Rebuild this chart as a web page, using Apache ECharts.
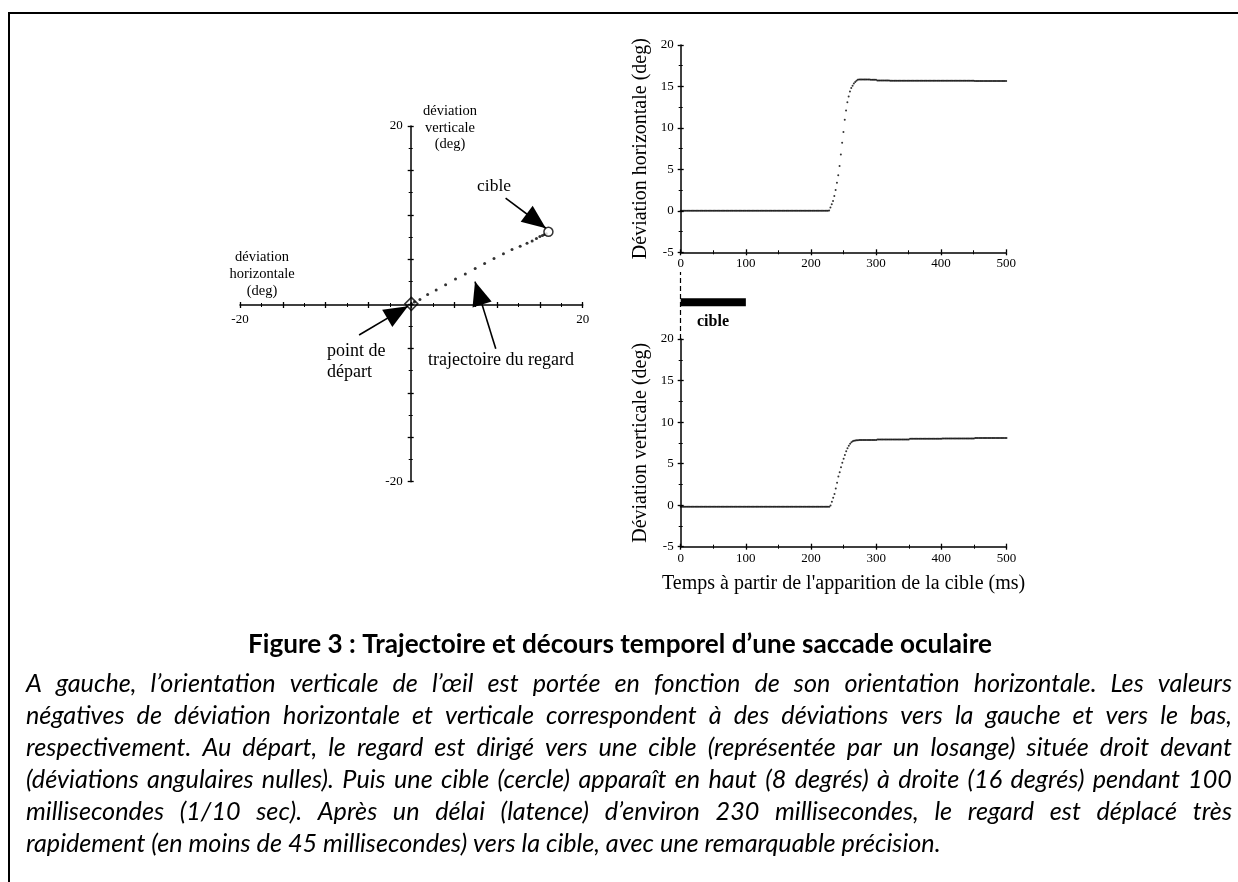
<!DOCTYPE html>
<html><head><meta charset="utf-8">
<script src="https://cdn.jsdelivr.net/npm/echarts@6/dist/echarts.min.js"></script>
<style>html,body{margin:0;padding:0;background:#fff}#c{width:1238px;height:882px}</style>
</head><body><div id="c"></div>
<script>
// ---------------- DATA ----------------
const SAMPLE_MS = 2; // one sample every 2 ms, from 0 to 500 ms
// Horizontal deviation (deg), samples at 0,2,4,...,500 ms
const horizontalDeg = [
  0,0,0,0,0,0,0,0,0,0, 0,0,0,0,0,0,0,0,0,0,
  0,0,0,0,0,0,0,0,0,0, 0,0,0,0,0,0,0,0,0,0,
  0,0,0,0,0,0,0,0,0,0, 0,0,0,0,0,0,0,0,0,0,
  0,0,0,0,0,0,0,0,0,0, 0,0,0,0,0,0,0,0,0,0,
  0,0,0,0,0,0,0,0,0,0, 0,0,0,0,0,0,0,0,0,0,
  0,0,0,0,0,0,0,0,0,0, 0,0,0,0,
  0.05,0.4,0.8,1.2,1.8,2.5,3.4,4.3,5.4,6.8,8.2,9.5,11.0,12.1,13.1,13.8,14.4,14.8,15.1,15.35,15.55,15.7,15.8,
  15.85,15.85,15.85,15.85,15.85,15.85,15.85,15.85,15.85,
  15.8,15.8,15.8,15.8,15.8,
  15.72,15.72,15.72,15.72,15.72,15.72,15.72,15.72,15.72,15.72, 15.7,15.7,15.7,15.7,15.7,15.7,15.7,15.7,15.7,15.7,
  15.7,15.7,15.7,15.7,15.7,15.7,15.7,15.7,15.7,15.7, 15.7,15.7,15.7,15.7,15.7,15.7,15.7,15.7,15.7,15.7,
  15.7,15.7,15.7,15.7,15.7,15.7,15.7,15.7,15.7,15.7,
  15.68,15.68,15.68,15.68,15.68,15.68,15.68,15.68,15.68,15.68, 15.68,15.68,15.68,15.68,15.68,15.68,15.68,15.68,15.68,15.68,
  15.68,15.68,15.68,15.68,15.68,
  15.65,15.65,15.65,15.65,15.65,15.65,15.65,15.65,15.65,15.65, 15.65,15.65,15.65,15.65,15.65,15.65,15.65,15.65,15.65,15.65,
  15.65,15.65,15.65,15.65,15.65
];
// Vertical deviation (deg), samples at 0,2,4,...,500 ms
const verticalDeg = [
  -0.2,-0.2,-0.2,-0.2,-0.2,-0.2,-0.2,-0.2,-0.2,-0.2, -0.2,-0.2,-0.2,-0.2,-0.2,-0.2,-0.2,-0.2,-0.2,-0.2,
  -0.2,-0.2,-0.2,-0.2,-0.2,-0.2,-0.2,-0.2,-0.2,-0.2, -0.2,-0.2,-0.2,-0.2,-0.2,-0.2,-0.2,-0.2,-0.2,-0.2,
  -0.2,-0.2,-0.2,-0.2,-0.2,-0.2,-0.2,-0.2,-0.2,-0.2, -0.2,-0.2,-0.2,-0.2,-0.2,-0.2,-0.2,-0.2,-0.2,-0.2,
  -0.2,-0.2,-0.2,-0.2,-0.2,-0.2,-0.2,-0.2,-0.2,-0.2, -0.2,-0.2,-0.2,-0.2,-0.2,-0.2,-0.2,-0.2,-0.2,-0.2,
  -0.2,-0.2,-0.2,-0.2,-0.2,-0.2,-0.2,-0.2,-0.2,-0.2, -0.2,-0.2,-0.2,-0.2,-0.2,-0.2,-0.2,-0.2,-0.2,-0.2,
  -0.2,-0.2,-0.2,-0.2,-0.2,-0.2,-0.2,-0.2,-0.2,-0.2, -0.2,-0.2,-0.2,-0.2,
  -0.2,-0.05,0.4,0.9,1.35,2.0,2.7,3.45,3.95,4.55,5.1,5.6,6.05,6.5,6.85,7.15,7.4,7.58,7.68,7.74,7.78,7.8,7.82,
  7.84,7.84,7.84,7.84,7.84,7.84,7.84,7.84,7.84,7.84,7.84,7.84,7.84,7.84,
  7.9,7.9,7.9,7.9,7.9,7.9,7.9,7.9,7.9,7.9, 7.9,7.9,7.9,7.9,7.9,7.9,7.9,7.9,7.9,7.9, 7.9,7.9,7.9,7.9,7.9,
  7.98,7.98,7.98,7.98,7.98,7.98,7.98,7.98,7.98,7.98, 7.98,7.98,7.98,7.98,7.98,7.98,7.98,7.98,7.98,7.98, 7.98,7.98,7.98,7.98,7.98,
  8.02,8.02,8.02,8.02,8.02,8.02,8.02,8.02,8.02,8.02, 8.02,8.02,8.02,8.02,8.02,8.02,8.02,8.02,8.02,8.02, 8.02,8.02,8.02,8.02,8.02,
  8.08,8.08,8.08,8.08,8.08,8.08,8.08,8.08,8.08,8.08, 8.08,8.08,8.08,8.08,8.08,8.08,8.08,8.08,8.08,8.08, 8.08,8.08,8.08,8.08,8.08
];
// Gaze trajectory (left plot): horizontal vs vertical deviation (deg)
const trajX = [0,0.35,1.0,1.9,2.9,4.0,5.15,6.3,7.45,8.55,9.65,10.75,11.75,12.7,13.5,14.1,14.6,15.0,15.3,15.55,15.75];
const trajY = [0,0.2,0.5,1.05,1.55,2.15,2.8,3.37,3.97,4.53,5.1,5.62,6.1,6.48,6.82,7.08,7.34,7.56,7.7,7.8,7.88];
const startPoint = [0, 0];
const targetPoint = [16, 8.1];
const targetOnMs = [0, 100];
// Annotation arrows (tail -> tip) in degrees
const arrowCible = [[11.0, 11.9], [15.7, 8.5]];
const arrowDepart = [[-6.1, -3.5], [-0.4, -0.26]];
const arrowTraj = [[9.85, -5.06], [7.43, 2.5]];
const leftTickLabels = [-20, 20];
const timeTicks = [0, 100, 200, 300, 400, 500];

const titleText = 'Figure 3 : Trajectoire et décours temporel d’une saccade oculaire';
const captionLines = [
  'A gauche, l’orientation verticale de l’œil est portée en fonction de son orientation horizontale. Les valeurs',
  'négatives de déviation horizontale et verticale correspondent à des déviations vers la gauche et vers le bas,',
  'respectivement. Au départ, le regard est dirigé vers une cible (représentée par un losange) située droit devant',
  '(déviations angulaires nulles). Puis une cible (cercle) apparaît en haut (8 degrés) à droite (16 degrés) pendant 100',
  'millisecondes (1/10 sec). Après un délai (latence) d’environ 230 millisecondes, le regard est déplacé très',
  'rapidement (en moins de 45 millisecondes) vers la cible, avec une remarquable précision.'
];

// ---------------- STYLE HELPERS ----------------
const SERIF = '"Liberation Serif", "DejaVu Serif", serif';
const SANS = 'Lato, "Open Sans", sans-serif';
const BLACK = '#000';
const TARGET_BAR_LEVEL = 0.55;

const mctx = document.createElement('canvas').getContext('2d');
function measure(t, font) { mctx.font = font; return mctx.measureText(t).width; }

function txt(text, x, y, o) {
  o = o || {};
  return {
    type: 'text', x: x, y: y, silent: true,
    style: Object.assign({
      text: text, fill: BLACK,
      fontFamily: SERIF, fontSize: 15,
      align: o.align || 'left', textAlign: o.align || 'left',
      verticalAlign: 'middle', textVerticalAlign: 'middle'
    }, o.style || {})
  };
}

const TICK = { length: 3, lineStyle: { color: BLACK, width: 1.3 } };
const TICK_IN = { inside: true, length: 3, lineStyle: { color: BLACK, width: 1.3 } };
const MINOR = { show: true, splitNumber: 2, length: 2, lineStyle: { color: BLACK, width: 1 } };
const AXLINE = { onZero: false, lineStyle: { color: BLACK, width: 1.5 } };
const NOLINE = { show: false, onZero: false };

function degAxis(grid, min, max, interval, extra) {
  return Object.assign({
    gridIndex: grid, type: 'value', min: min, max: max, interval: interval,
    splitLine: { show: false }, minorSplitLine: { show: false },
    axisLine: AXLINE, axisTick: TICK, minorTick: MINOR
  }, extra);
}
const hidden = (grid, min, max) => ({ gridIndex: grid, type: 'value', min: min, max: max, show: false });

const leftLabel = {
  color: BLACK, fontFamily: SERIF, fontSize: 13, margin: 8,
  formatter: v => (leftTickLabels.indexOf(v) >= 0 ? String(v) : '')
};
const timeLabel = {
  color: BLACK, fontFamily: SERIF, fontSize: 13, margin: 5,
  formatter: v => (timeTicks.indexOf(v) >= 0 ? String(v) : '')
};
const degLabel = { color: BLACK, fontFamily: SERIF, fontSize: 13, margin: 7 };
const titleStyle = { color: BLACK, fontFamily: SERIF, fontSize: 20 };

// arrow head: triangle whose tip sits at the symbol centre
const ARROW_PATH = 'path://M24,24 L14,48 L34,48 Z M24,0 L24,0 M0,24 L0,24 M48,24 L48,24';

const series = [
  { // start diamond
    type: 'scatter', xAxisIndex: 0, yAxisIndex: 0, silent: true, z: 3,
    symbol: 'diamond', symbolSize: 13, data: [startPoint],
    itemStyle: { color: 'rgba(255,255,255,0)', borderColor: BLACK, borderWidth: 1.5 }
  },
  { // trajectory
    type: 'scatter', xAxisIndex: 0, yAxisIndex: 0, silent: true, z: 4,
    symbol: 'circle', symbolSize: 3,
    data: trajX.map((x, i) => [x, trajY[i]]),
    itemStyle: { color: BLACK },
    markLine: {
      silent: true, animation: false,
      symbol: ['none', ARROW_PATH], symbolSize: 48,
      label: { show: false },
      lineStyle: { color: BLACK, width: 1.6, type: 'solid' },
      emphasis: { disabled: true },
      data: [arrowCible, arrowDepart, arrowTraj].map(a => [{ coord: a[0] }, { coord: a[1] }])
    }
  },
  { // target circle
    type: 'scatter', xAxisIndex: 0, yAxisIndex: 0, silent: true, z: 5,
    symbol: 'circle', symbolSize: 9, data: [targetPoint],
    itemStyle: { color: '#fff', borderColor: BLACK, borderWidth: 1.5 }
  },
  { // horizontal time course
    type: 'scatter', xAxisIndex: 1, yAxisIndex: 1, silent: true,
    symbol: 'circle', symbolSize: 2,
    data: horizontalDeg.map((v, i) => [i * SAMPLE_MS, v]),
    itemStyle: { color: BLACK }
  },
  { // vertical time course
    type: 'scatter', xAxisIndex: 3, yAxisIndex: 3, silent: true,
    symbol: 'circle', symbolSize: 2,
    data: verticalDeg.map((v, i) => [i * SAMPLE_MS, v]),
    itemStyle: { color: BLACK }
  },
  { // target presentation bar
    type: 'line', xAxisIndex: 5, yAxisIndex: 5, silent: true,
    symbol: 'none',
    data: [[targetOnMs[0], TARGET_BAR_LEVEL], [targetOnMs[1], TARGET_BAR_LEVEL]],
    lineStyle: { color: BLACK, width: 8, cap: 'butt' },
    markLine: {
      silent: true, animation: false, symbol: 'none', label: { show: false },
      lineStyle: { color: BLACK, width: 1.2, type: [5, 3] },
      data: [{ xAxis: targetOnMs[0] }]
    }
  }
];

// ---------------- TEXT / CAPTION LAYOUT ----------------
const graphics = [];
graphics.push({ type: 'line', silent: true, shape: { x1: 8, y1: 13, x2: 1238, y2: 13 }, style: { stroke: BLACK, lineWidth: 2 } });
graphics.push({ type: 'line', silent: true, shape: { x1: 9, y1: 12, x2: 9, y2: 882 }, style: { stroke: BLACK, lineWidth: 2 } });

graphics.push(txt('déviation\nverticale\n(deg)', 450, 128, { align: 'center', style: { fontSize: 14.5, lineHeight: 16.5 } }));
graphics.push(txt('déviation\nhorizontale\n(deg)', 262, 274, { align: 'center', style: { fontSize: 14.5, lineHeight: 17 } }));
graphics.push(txt('cible', 494, 186, { align: 'center', style: { fontSize: 17.5 } }));
graphics.push(txt('point de\ndépart', 327, 362, { style: { fontSize: 18, lineHeight: 21 } }));
graphics.push(txt('trajectoire du regard', 428, 360, { style: { fontSize: 18 } }));
graphics.push(txt('cible', 697, 322, { style: { fontSize: 16, fontWeight: 'bold' } }));

let titleFs = 22;
titleFs = titleFs * 744 / measure(titleText, `bold ${titleFs}px ${SANS}`);
graphics.push(txt(titleText, 620, 645, { align: 'center', style: { fontFamily: SANS, fontWeight: 'bold', fontSize: titleFs } }));

// justified italic paragraph; size chosen so the last (unjustified) line has the reference length
const PX0 = 26, PX1 = 1232, LAST_LINE_W = 915;
const lineYs = [684, 716, 748, 780, 812, 844];
const baseFs = 20;
let parFs = baseFs * LAST_LINE_W / measure(captionLines[5], `italic ${baseFs}px ${SANS}`);
let maxW = 0;
for (let i = 0; i < 5; i++) maxW = Math.max(maxW, measure(captionLines[i], `italic ${parFs}px ${SANS}`));
if (maxW > PX1 - PX0) parFs = parFs * (PX1 - PX0) / maxW;
const parFont = `italic ${parFs}px ${SANS}`;
captionLines.forEach((line, li) => {
  const words = line.split(' ');
  const ws = words.map(w => measure(w, parFont));
  const sum = ws.reduce((a, b) => a + b, 0);
  const gap = li < 5 ? (PX1 - PX0 - sum) / (words.length - 1) : measure(' ', parFont);
  let x = PX0;
  words.forEach((w, wi) => {
    graphics.push(txt(w, x, lineYs[li], { style: { fontFamily: SANS, fontStyle: 'italic', fontSize: parFs } }));
    x += ws[wi] + gap;
  });
});

// ---------------- CHART ----------------
const LEFT = { left: 240, top: 126, width: 342.7, height: 355.7 };
const ORIGIN = { x: 410.7, y: 305 };
const chart = echarts.init(document.getElementById('c'), null, { renderer: 'canvas' });
chart.setOption({
  backgroundColor: '#fff',
  animation: false,
  grid: [
    Object.assign({ outerBoundsMode: 'none' }, LEFT),                                  // 0 left data
    { left: 680.7, top: 45, width: 325.5, height: 207.3, outerBoundsMode: 'none' },     // 1 top right
    { left: 680.7, top: 339, width: 325.8, height: 207.7, outerBoundsMode: 'none' },    // 2 bottom right
    { left: 680.7, top: 272, width: 325.8, height: 67, outerBoundsMode: 'none' },       // 3 target bar
    { left: LEFT.left, top: LEFT.top, width: LEFT.width, height: ORIGIN.y - LEFT.top, outerBoundsMode: 'none' }, // 4 horizontal axis
    { left: ORIGIN.x, top: LEFT.top, width: LEFT.left + LEFT.width - ORIGIN.x, height: LEFT.height, outerBoundsMode: 'none' } // 5 vertical axis
  ],
  xAxis: [
    hidden(0, -20, 20),
    degAxis(1, 0, 500, 100, { position: 'bottom', axisLabel: timeLabel }),
    degAxis(1, 0, 500, 100, { position: 'bottom', axisTick: TICK_IN, axisLabel: { show: false }, axisLine: NOLINE }),
    degAxis(2, 0, 500, 100, { position: 'bottom', axisLabel: timeLabel,
      name: 'Temps à partir de l\'apparition de la cible (ms)', nameLocation: 'middle', nameGap: 27, nameTextStyle: titleStyle }),
    degAxis(2, 0, 500, 100, { position: 'bottom', axisTick: TICK_IN, axisLabel: { show: false }, axisLine: NOLINE }),
    hidden(3, 0, 500),
    degAxis(4, -20, 20, 5, { position: 'bottom', axisLabel: leftLabel }),
    degAxis(4, -20, 20, 5, { position: 'bottom', axisTick: TICK_IN, axisLabel: { show: false }, axisLine: NOLINE }),
    hidden(5, 0, 20)
  ],
  yAxis: [
    hidden(0, -20, 20),
    degAxis(1, -5, 20, 5, { position: 'left', axisLabel: degLabel,
      name: 'Déviation horizontale (deg)', nameLocation: 'middle', nameRotate: 90, nameGap: 30, nameTextStyle: titleStyle }),
    degAxis(1, -5, 20, 5, { position: 'left', axisTick: TICK_IN, axisLabel: { show: false }, axisLine: NOLINE }),
    degAxis(2, -5, 20, 5, { position: 'left', axisLabel: degLabel,
      name: 'Déviation verticale (deg)', nameLocation: 'middle', nameRotate: 90, nameGap: 30, nameTextStyle: titleStyle }),
    degAxis(2, -5, 20, 5, { position: 'left', axisTick: TICK_IN, axisLabel: { show: false }, axisLine: NOLINE }),
    hidden(3, 0, 1),
    hidden(4, 0, 20),
    degAxis(5, -20, 20, 5, { position: 'left', axisLabel: leftLabel }),
    degAxis(5, -20, 20, 5, { position: 'left', axisTick: TICK_IN, axisLabel: { show: false }, axisLine: NOLINE })
  ],
  series: series,
  graphic: graphics
});
</script>
</body></html>
